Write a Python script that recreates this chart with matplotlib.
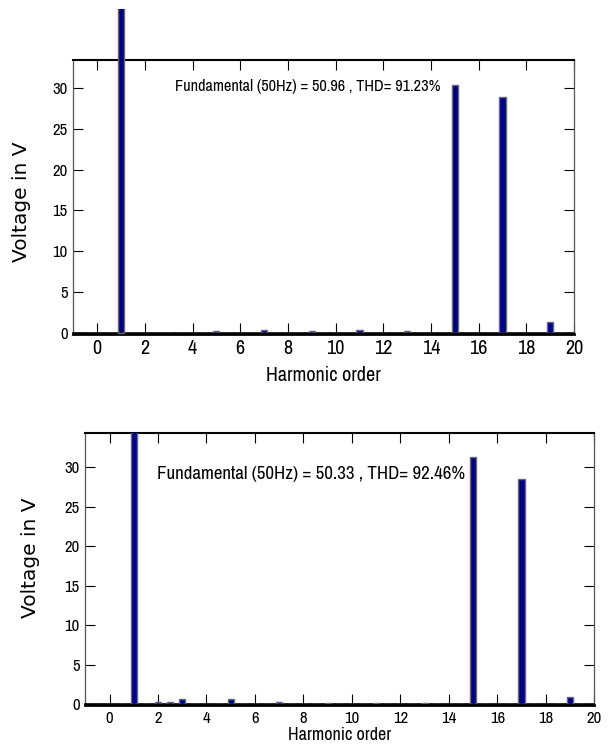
import matplotlib
matplotlib.use("Agg")
import matplotlib.pyplot as plt
from matplotlib.lines import Line2D
from matplotlib.transforms import Bbox, TransformedBbox, offset_copy
from matplotlib import font_manager
from matplotlib.font_manager import FontProperties

# Harmonic spectrum data (orders in steps of 0.5)
orders = [0.0, 0.5, 1.0, 1.5, 2.0, 2.5, 3.0, 3.5, 4.0, 4.5,
          5.0, 5.5, 6.0, 6.5, 7.0, 7.5, 8.0, 8.5, 9.0, 9.5,
          10.0, 10.5, 11.0, 11.5, 12.0, 12.5, 13.0, 13.5, 14.0, 14.5,
          15.0, 15.5, 16.0, 16.5, 17.0, 17.5, 18.0, 18.5, 19.0, 19.5, 20.0]

volts_a = [0.0, 0.0, 50.96, 0.0, 0.0, 0.0, 0.0, 0.0, 0.0, 0.0,
           0.2, 0.0, 0.0, 0.0, 0.4, 0.0, 0.0, 0.0, 0.2, 0.0,
           0.0, 0.0, 0.4, 0.0, 0.0, 0.0, 0.3, 0.0, 0.0, 0.0,
           30.3, 0.0, 0.0, 0.0, 28.9, 0.0, 0.0, 0.0, 1.3, 0.0, 0.0]

volts_b = [0.0, 0.0, 50.33, 0.0, 0.2, 0.2, 0.6, 0.0, 0.0, 0.0,
           0.6, 0.0, 0.0, 0.0, 0.3, 0.0, 0.0, 0.0, 0.15, 0.0,
           0.0, 0.0, 0.15, 0.0, 0.0, 0.0, 0.15, 0.0, 0.0, 0.0,
           31.3, 0.0, 0.0, 0.0, 28.5, 0.0, 0.0, 0.0, 0.9, 0.0, 0.0]

label_a = "Fundamental (50Hz) = 50.96 , THD= 91.23%"
label_b = "Fundamental (50Hz) = 50.33 , THD= 92.46%"

xticks = [0, 2, 4, 6, 8, 10, 12, 14, 16, 18, 20]
yticks = [0, 5, 10, 15, 20, 25, 30]


def pick_narrow_font():
    """Prefer a narrow / condensed sans face; fall back to Liberation Sans."""
    entries = font_manager.fontManager.ttflist
    for e in entries:
        if "narrow" in e.name.lower() and e.weight in (400, "normal", "regular") and e.style == "normal":
            return FontProperties(fname=e.fname), True
    for e in entries:
        if ("condensed" in str(e.stretch).lower() or "condensed" in e.fname.lower()) \
                and "bold" not in e.fname.lower() and "italic" not in e.fname.lower() \
                and "oblique" not in e.fname.lower() and "mono" not in e.fname.lower() \
                and "serif" not in e.name.lower() and "extra" not in str(e.stretch).lower() \
                and "semi" not in e.fname.lower() and "light" not in e.fname.lower():
            return FontProperties(fname=e.fname), True
    return FontProperties(family="Liberation Sans"), False


narrow_fp, is_narrow = pick_narrow_font()

W, H = 616, 746
fig = plt.figure(figsize=(W / 100, H / 100), dpi=100)
renderer = fig.canvas.get_renderer()


def px_axes(left, top, right, bottom):
    return fig.add_axes([left / W, 1 - bottom / H, (right - left) / W, (bottom - top) / H])


def narrow(size):
    fp = narrow_fp.copy()
    fp.set_size(size if is_narrow else size * 0.85)
    return fp


def fit_width(txt, target_px, max_size):
    """Shrink a text until it spans the wanted width in pixels."""
    w = txt.get_window_extent(renderer).width
    size = txt.get_fontsize() * target_px / w
    txt.set_fontsize(min(size, max_size))


def spectrum(ax, values, ymax, text, tx, ty, twidth, tmax, ylab_pos,
             xtick_size, xlab_size, xpad, xlabpad):
    # thick zero line sits just under the bar baseline so empty bins show as dashes
    base_tr = offset_copy(ax.get_yaxis_transform(), fig=fig, y=-1.0, units="dots")
    ax.add_line(Line2D([0, 1], [0, 0], color="black", lw=2.0, zorder=1,
                       transform=base_tr, clip_on=False))
    bars = ax.bar(orders, values, width=0.26, color="#000090",
                  edgecolor="#6a6a6a", linewidth=1.0, zorder=3)
    ax.set_xlim(-1, 20)
    ax.set_ylim(0, ymax)
    ax.set_xticks(xticks)
    ax.set_yticks(yticks)
    ax.tick_params(direction="in", length=7, width=0.8, top=True, right=True)
    ax.tick_params(axis="x", pad=xpad)
    ax.tick_params(axis="y", pad=4)
    for lab in ax.get_xticklabels():
        lab.set_fontproperties(narrow(xtick_size))
    for lab in ax.get_yticklabels():
        lab.set_fontproperties(narrow(12))
    for side in ("left", "right"):
        ax.spines[side].set_color("#555555")
        ax.spines[side].set_linewidth(0.9)
    ax.spines["top"].set_linewidth(1.5)
    ax.spines["bottom"].set_linewidth(1.2)
    ax.set_xlabel("Harmonic order", fontproperties=narrow(xlab_size), labelpad=xlabpad)
    ax.set_ylabel("Voltage in V", family="DejaVu Sans", fontsize=14.5)
    ax.yaxis.set_label_coords(*ylab_pos)
    t = ax.text(tx, ty, text, fontproperties=narrow(tmax), va="center", ha="left")
    fit_width(t, twidth, tmax)
    return bars


ax1 = px_axes(73.3, 60, 574, 333)
bars1 = spectrum(ax1, volts_a, 33.4, label_a, 3.27, 30.1, 266, 16, (-0.084, 0.48),
                 xtick_size=14.5, xlab_size=14.5, xpad=4, xlabpad=6)
# the fundamental rises above the frame
bars1[2].set_clip_box(TransformedBbox(Bbox([[0, 0], [1, (H - 9.3) / H]]), fig.transFigure))

ax2 = px_axes(85.3, 433.3, 594.3, 704)
spectrum(ax2, volts_b, 34.3, label_b, 1.96, 29.2, 308, 19, (-0.089, 0.54),
         xtick_size=12, xlab_size=13, xpad=5, xlabpad=1)

fig.savefig("out.png", dpi=100)
